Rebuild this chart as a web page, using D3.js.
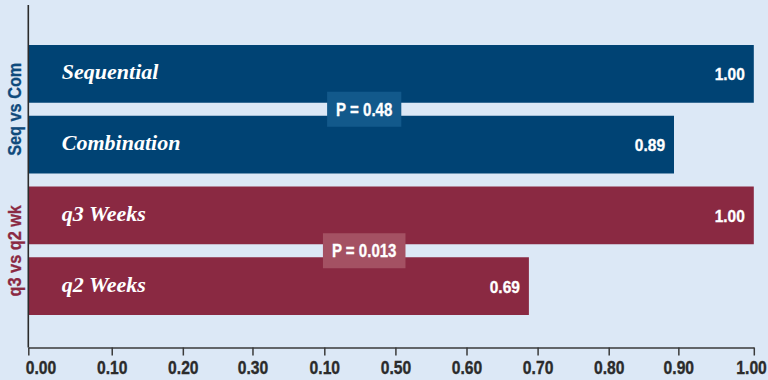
<!DOCTYPE html>
<html>
<head>
<meta charset="utf-8">
<script src="https://cdn.jsdelivr.net/npm/d3@7"></script>
<style>
  html, body { margin: 0; padding: 0; background: #dce8f6; }
  svg { display: block; }
  .cond { font-family: "Liberation Sans", Arimo, "DejaVu Sans", sans-serif; font-weight: bold; }
  .ital { font-family: "Liberation Serif", "DejaVu Serif", serif; font-style: italic; font-weight: bold; }
</style>
</head>
<body>
<svg id="chart" width="768" height="380"></svg>
<script>
// Relative values per arm, compared in two pairs
const categories = ["Sequential", "Combination", "q3 Weeks", "q2 Weeks"];
const values = [1.00, 0.89, 1.00, 0.69];
const groupOf = [0, 0, 1, 1];

// Pair labels and the P value of each comparison
const groups = ["Seq vs Com", "q3 vs q2 wk"];
const pValues = ["P = 0.48", "P = 0.013"];

// Axis tick labels and where each tick mark sits along the axis
const tickLabels = ["0.00", "0.10", "0.20", "0.30", "0.10", "0.50", "0.60", "0.70", "0.80", "0.90", "1.00"];
const tickPositions = [0, 0.115, 0.213, 0.309, 0.408, 0.506, 0.604, 0.702, 0.800, 0.896, 1.0];

const barColors = ["#004374", "#8a2942"];
const boxColors = ["#12598b", "#a45163"];
const groupText = ["#0f4a7c", "#8a2942"];

const svg = d3.select("#chart");
svg.append("rect").attr("width", 768).attr("height", 380).attr("fill", "#dce8f6");

const x = d3.scaleLinear().domain([0, 1]).range([28.3, 753.8]);
const y = d3.scaleBand().domain(categories).range([38.5, 321.5])
  .paddingInner(0.184).paddingOuter(0.092);

// Narrow bold text: horizontally squeezed around its anchor point
function narrowText(parent, tx, ty, str, size, squeeze, anchor, fill, rotate) {
  return parent.append("text")
    .attr("class", "cond")
    .attr("transform", `translate(${tx},${ty})${rotate ? ` rotate(${rotate})` : ""} scale(${squeeze},1)`)
    .attr("text-anchor", anchor)
    .attr("fill", fill)
    .attr("stroke", fill)
    .attr("stroke-width", 0.3)
    .attr("font-size", size)
    .text(str);
}

// Bars
svg.append("g").selectAll("rect")
  .data(categories)
  .join("rect")
  .attr("x", x(0))
  .attr("y", d => y(d))
  .attr("width", (d, i) => x(values[i]) - x(0))
  .attr("height", y.bandwidth())
  .attr("fill", (d, i) => barColors[groupOf[i]]);

// Category names inside the bars
svg.append("g").selectAll("text")
  .data(categories)
  .join("text")
  .attr("class", "ital")
  .attr("x", x(0) + 33.5)
  .attr("y", d => y(d) + y.bandwidth() / 2 + 5.5)
  .attr("fill", "#ffffff")
  .attr("font-size", 22)
  .text(d => d);

// Value labels at the bar ends
const valueLayer = svg.append("g");
categories.forEach((c, i) => {
  narrowText(valueLayer, x(values[i]) - 9, y(c) + y.bandwidth() / 2 + 6.5,
    values[i].toFixed(2), 16.5, 0.94, "end", "#ffffff");
});

// P value boxes between the two bars of each pair
groups.forEach((g, gi) => {
  const members = categories.filter((c, i) => groupOf[i] === gi);
  const top = y(members[0]) + y.bandwidth();
  const bottom = y(members[1]);
  const cy = (top + bottom) / 2;
  const cx = x(0.463);
  const box = svg.append("g");
  const rect = box.append("rect").attr("fill", boxColors[gi]);
  const t = narrowText(box, cx, cy + 6.3, pValues[gi], 17.5, 0.86, "middle", "#ffffff");
  const bb = t.node().getBBox();
  const w = bb.width * 0.86;
  const padX = 9;
  rect.attr("x", cx - w / 2 - padX).attr("width", w + padX * 2)
    .attr("y", cy - 17.5).attr("height", 35);

  // Pair label rotated along the left edge
  narrowText(svg, 20.5, cy, g, 18.5, 0.88, "middle", groupText[gi], -90);
});

// Horizontal axis
const axis = d3.axisBottom(x)
  .tickValues(tickPositions)
  .tickFormat((d, i) => tickLabels[i])
  .tickSizeInner(8)
  .tickSizeOuter(0)
  .tickPadding(6);

const ax = svg.append("g")
  .attr("transform", "translate(0,347.5)")
  .call(axis);
ax.select(".domain").attr("stroke", "#3a3a3a").attr("stroke-width", 1.5);
ax.selectAll(".tick line").attr("stroke", "#3a3a3a").attr("stroke-width", 1.5);
const last = tickPositions.length - 1;
ax.selectAll(".tick text")
  .attr("class", "cond")
  .attr("fill", "#2b2b2b")
  .attr("stroke", "#2b2b2b")
  .attr("stroke-width", 0.35)
  .attr("font-size", 18)
  // end labels are pulled inward so they stay on the page
  .attr("text-anchor", (d, i) => i === 0 ? "start" : i === last ? "end" : "middle")
  .attr("transform", (d, i) => `translate(${i === 0 ? -3 : i === last ? 12.5 : 0},0) scale(0.87,1)`);

// Vertical axis line
svg.append("line")
  .attr("x1", x(0)).attr("x2", x(0))
  .attr("y1", 5).attr("y2", 347.5)
  .attr("stroke", "#2b2b2b")
  .attr("stroke-width", 1.6);
</script>
</body>
</html>
